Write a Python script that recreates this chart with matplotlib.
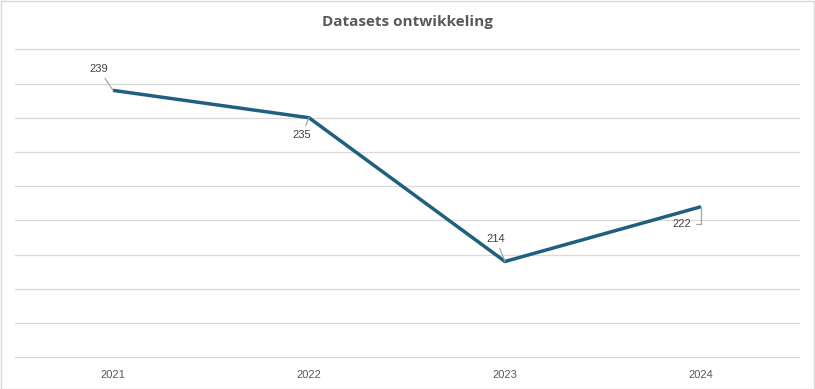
import matplotlib
matplotlib.use("Agg")
import matplotlib.pyplot as plt
from matplotlib.patches import Rectangle

years = ["2021", "2022", "2023", "2024"]
values = [239, 235, 214, 222]
label_offsets = [(-14, 21), (-7, -17), (-9, 22), (-19, -17)]

plt.rcParams['font.family'] = ['Liberation Sans', 'DejaVu Sans']

fig = plt.figure(figsize=(8.15, 3.89), dpi=100)
top_px, bot_px = 49.3, 357.3
ax = fig.add_axes([15/815, 1-bot_px/389, 784/815, (bot_px-top_px)/389])

x = list(range(len(years)))
ax.plot(x, values, color="#1f5f7f", linewidth=2.5, solid_capstyle="butt", zorder=3)
ax.set_xlim(-0.5, len(years) - 0.5)
ax.set_ylim(200, 245)
ax.set_yticks(range(200, 246, 5))
ax.yaxis.grid(True, color="#d9d9d9", linewidth=0.9, clip_on=False)
for gl in ax.get_ygridlines():
    gl.set_clip_on(False)
ax.set_axisbelow(True)
ax.tick_params(axis='y', left=False, labelleft=False)
ax.set_xticks(x)
ax.set_xticklabels(years, fontsize=8, color="#595959")
ax.tick_params(axis='x', length=0, pad=9)
for s in ax.spines.values():
    s.set_visible(False)

for i, (v, off) in enumerate(zip(values, label_offsets)):
    cs = "angle,angleA=0,angleB=90,rad=0" if i == 3 else "arc3"
    ax.annotate(str(v), xy=(i, v), xytext=off, textcoords="offset pixels",
                ha="center", va="center", fontsize=8, color="#404040",
                arrowprops=dict(arrowstyle="-", color="#a6a6a6", lw=0.9,
                                shrinkA=1, shrinkB=0, connectionstyle=cs))

fig.text(407/815, 1-22/389, "Datasets ontwikkeling", ha="center", va="center",
         fontsize=11, fontweight="bold", color="#595959",
         family=['Open Sans', 'DejaVu Sans'])

fig.patches.append(Rectangle((0.5/815, 0.5/389), 1-1.5/815, 1-1/389, transform=fig.transFigure,
                             fill=False, edgecolor="#d9d9d9", linewidth=1))

fig.savefig("out.png", dpi=100)
